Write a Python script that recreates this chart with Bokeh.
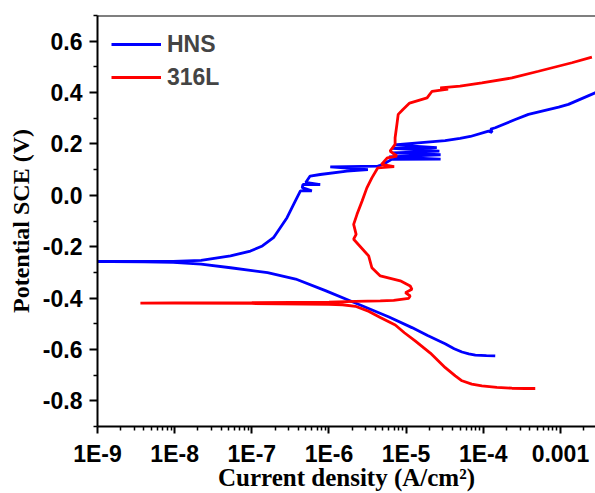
from bokeh.plotting import figure
from bokeh.models import Range1d, FixedTicker, NumeralTickFormatter, CustomJSTickFormatter, Span
from bokeh.embed import file_html
from bokeh.resources import INLINE

# HNS: scan from cathodic end through E_corr up the anodic branch
hns_current = [
    1.43e-4, 1.1e-4, 7.9e-5, 6.5e-5, 5.3e-5, 4.2e-5, 3.2e-5, 1.9e-5, 1.19e-5, 6.0e-6, 2.2e-6, 9.0e-7,
    3.7e-7, 1.6e-7, 5.3e-8, 2.2e-8, 9.6e-9, 4e-9, 1.5e-9, 6e-10,
    6e-10, 1.5e-9, 4e-9, 9.6e-9, 2.2e-8, 5.3e-8, 9.6e-8, 1.37e-7, 1.91e-7, 2.86e-7,
    3.67e-7, 4.27e-7, 6.0e-7, 4.5e-7, 4.6e-7, 7.7e-7, 5.0e-7, 5.7e-7, 7.7e-7, 1.71e-6,
    3.2e-6, 1.04e-6, 4.3e-6, 5.0e-6, 6.5e-6, 2.8e-5, 6.0e-6, 2.8e-5, 6.6e-6, 2.7e-5,
    6.6e-6, 2.5e-5, 7.0e-6, 3.2e-5, 5.0e-5, 6.8e-5, 1.17e-4, 1.3e-4, 1.25e-4, 1.43e-4,
    2.6e-4, 3.85e-4, 9.5e-4, 1.27e-3, 2.82e-3, 3.5e-3,
]
hns_potential = [
    -0.625, -0.624, -0.622, -0.617, -0.610, -0.597, -0.578, -0.546, -0.515, -0.474, -0.419, -0.371,
    -0.326, -0.301, -0.282, -0.268, -0.261, -0.259, -0.258, -0.258,
    -0.257, -0.257, -0.257, -0.257, -0.253, -0.236, -0.217, -0.197, -0.165, -0.087,
    -0.022, 0.017, 0.017, 0.030, 0.042, 0.042, 0.050, 0.075, 0.081, 0.094,
    0.100, 0.111, 0.114, 0.120, 0.140, 0.141, 0.150, 0.158, 0.165, 0.172,
    0.183, 0.186, 0.196, 0.213, 0.222, 0.229, 0.250, 0.245, 0.258, 0.263,
    0.295, 0.315, 0.343, 0.354, 0.399, 0.410,
]

# 316L
l316_current = [
    4.72e-4, 3.5e-4, 2.35e-4, 1.5e-4, 9.6e-5, 7.1e-5, 5.3e-5, 4.34e-5, 3.22e-5, 2.06e-5,
    1.31e-5, 9.5e-6, 7.24e-6, 4.63e-6, 3.3e-6, 2.2e-6, 1.5e-6, 1.0e-6, 1e-7, 1e-8, 3.6e-9,
    1e-8, 1e-7, 1e-6, 2.2e-6, 4.63e-6, 6.9e-6, 1.08e-5, 1.13e-5, 9.8e-6, 1.19e-5,
    1.13e-5, 8.4e-6, 4.63e-6, 3.6e-6, 3.27e-6, 2.09e-6, 2.25e-6, 2.09e-6, 2.31e-6, 2.69e-6,
    3.1e-6, 3.6e-6, 4.3e-6, 7.0e-6, 4.8e-6, 5.7e-6, 7.6e-6, 6.2e-6, 7.2e-6, 7.2e-6,
    7.6e-6, 7.9e-6, 9.1e-6, 1.11e-5, 1.87e-5, 2.17e-5, 3.5e-5, 2.77e-5, 5.0e-5, 9.6e-5,
    2.35e-4, 5.2e-4, 1.41e-3, 2.56e-3,
]
l316_potential = [
    -0.752, -0.752, -0.751, -0.748, -0.742, -0.735, -0.722, -0.703, -0.671, -0.614,
    -0.567, -0.535, -0.505, -0.476, -0.452, -0.432, -0.426, -0.424, -0.421, -0.420, -0.420,
    -0.419, -0.418, -0.416, -0.413, -0.411, -0.409, -0.401, -0.392, -0.379, -0.366,
    -0.353, -0.333, -0.314, -0.282, -0.236, -0.171, -0.152, -0.113, -0.074, -0.022,
    0.029, 0.068, 0.107, 0.112, 0.120, 0.146, 0.153, 0.172, 0.198, 0.224,
    0.276, 0.315, 0.334, 0.359, 0.379, 0.405, 0.413, 0.418, 0.425, 0.438,
    0.457, 0.483, 0.516, 0.538,
]

x_ticks = [1e-9, 1e-8, 1e-7, 1e-6, 1e-5, 1e-4, 1e-3]
x_tick_labels = ["1E-9", "1E-8", "1E-7", "1E-6", "1E-5", "1E-4", "0.001"]
x_minor_ticks = [m * d for d in [1e-9, 1e-8, 1e-7, 1e-6, 1e-5, 1e-4, 1e-3]
                 for m in [2, 3, 4, 5, 6, 7, 8, 9]]
y_ticks = [-0.8, -0.6, -0.4, -0.2, 0.0, 0.2, 0.4, 0.6]
y_minor_ticks = [-0.9, -0.7, -0.5, -0.3, -0.1, 0.1, 0.3, 0.5, 0.7]

p = figure(width=595, height=493, x_axis_type="log",
           x_range=Range1d(1e-9, 2.85e-3), y_range=Range1d(-0.9, 0.7),
           output_backend="svg", toolbar_location=None,
           min_border_left=97, min_border_right=0, min_border_top=15, min_border_bottom=40)

p.background_fill_color = "white"
p.border_fill_color = "white"
p.outline_line_color = None
p.xgrid.grid_line_color = None
p.ygrid.grid_line_color = None

p.line(hns_current, hns_potential, line_color="#0000FF", line_width=2.8, legend_label="HNS")
p.line(l316_current, l316_potential, line_color="#FF0000", line_width=2.8, legend_label="316L")

p.add_layout(Span(location=0.7, dimension="width", line_color="black", line_width=2))

tick_font = "Liberation Sans"
label_font = "Liberation Serif"

p.xaxis.ticker = FixedTicker(ticks=x_ticks, minor_ticks=x_minor_ticks)
p.xaxis.formatter = CustomJSTickFormatter(args=dict(tvals=x_ticks, tlabels=x_tick_labels), code="""
let best = 0; let bd = Infinity;
for (let i = 0; i < tvals.length; i++) {
  const d = Math.abs(Math.log10(tvals[i]) - Math.log10(tick));
  if (d < bd) { bd = d; best = i; }
}
return tlabels[best];
""")
p.yaxis.ticker = FixedTicker(ticks=y_ticks, minor_ticks=y_minor_ticks)
p.yaxis.formatter = NumeralTickFormatter(format="0.0")

for ax in (p.xaxis[0], p.yaxis[0]):
    ax.axis_line_width = 2
    ax.axis_line_color = "black"
    ax.major_tick_line_width = 2
    ax.minor_tick_line_width = 1.5
    ax.major_tick_in = 0
    ax.minor_tick_in = 0
    ax.major_label_text_font = tick_font
    ax.major_label_text_font_style = "bold"
    ax.major_label_text_font_size = "23px"
    ax.major_label_text_color = "black"
    ax.axis_label_text_font = label_font
    ax.axis_label_text_font_style = "bold"
    ax.axis_label_text_font_size = "25px"
    ax.axis_label_text_color = "black"

p.xaxis.major_tick_out = 7
p.xaxis.minor_tick_out = 4
p.xaxis.major_label_standoff = 7
p.xaxis.axis_label = "Current density (A/cm\u00b2)"
p.xaxis.axis_label_standoff = -6

p.yaxis.major_tick_out = 8
p.yaxis.minor_tick_out = 4
p.yaxis.major_label_standoff = 7
p.yaxis.axis_label = "Potential SCE (V)"
p.yaxis.axis_label_text_font_size = "24px"
p.yaxis.axis_label_standoff = 6

lg = p.legend[0]
lg.location = "top_left"
lg.background_fill_alpha = 0
lg.border_line_color = None
lg.label_text_font = tick_font
lg.label_text_font_style = "bold"
lg.label_text_font_size = "23px"
lg.glyph_width = 50
lg.glyph_height = 30
lg.label_height = 30
lg.spacing = 3
lg.padding = 0
lg.margin = 14
lg.label_standoff = 6

open("out.html", "w").write(file_html(p, INLINE))
